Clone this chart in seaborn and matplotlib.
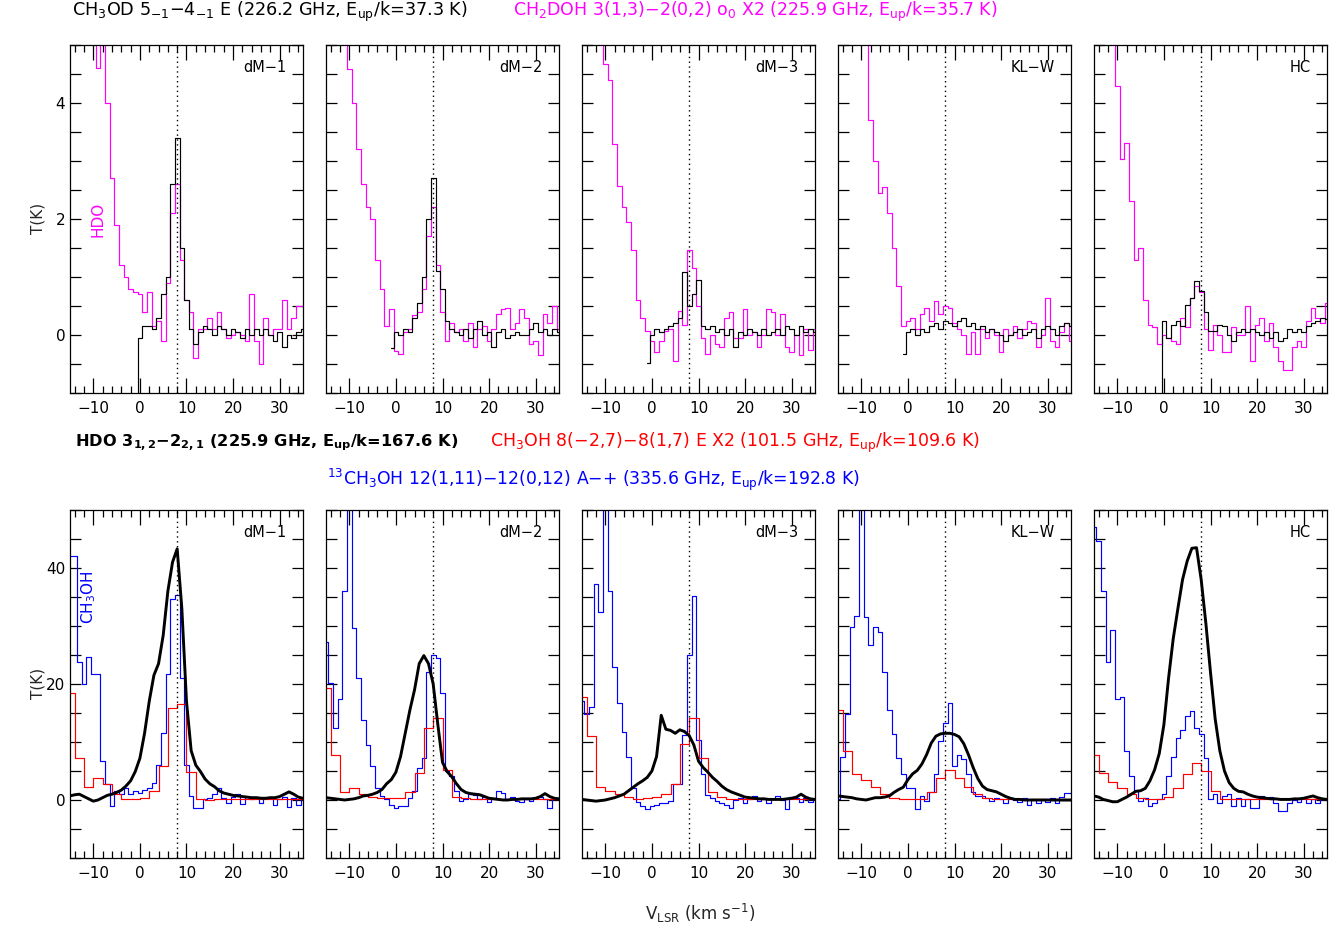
import numpy as np
import pandas as pd
import matplotlib
matplotlib.use("Agg")
import matplotlib.pyplot as plt
from matplotlib.ticker import FixedLocator, MultipleLocator, NullFormatter
import seaborn as sns

# ---------------------------------------------------------------- data
# channel velocities (km/s)
v_wide = np.arange(-15, 36)        # CH2DOH, HDO, 13CH3OH
v_narrow = np.arange(-1, 36)       # CH3OD (starts near 0 km/s)
v_coarse = np.arange(-15, 36, 2)   # CH3OH at 101 GHz (coarser channels)

sources = ["dM−1", "dM−2", "dM−3", "KL−W", "HC"]
v_ref = 8.0

# top row: CH2DOH x2 (magenta), v = -15 .. 35
ch2doh_dm1 = [6, 6, 6, 6, 6, 6, 4.6, 5.3, 4.0, 2.7,
              1.9, 1.2, 1.0, 0.8, 0.75, 0.7, 0.4, 0.75, 0.15, 0.25,
              -0.1, 0.9, 2.1, 2.6, 1.3, 0.6, 0.4, -0.4, 0.1, 0.1,
              0.3, 0.1, 0.4, 0.1, -0.05, 0.0, 0.05, 0.0, -0.1, 0.7,
              -0.1, -0.5, 0.3, 0.0, 0.1, 0.1, 0.6, 0.1, 0.3, 0.5, 0.5]
ch2doh_dm2 = [6, 6, 6, 6, 6, 4.58, 4.0, 3.2, 2.6, 2.2,
              2.0, 1.3, 0.8, 0.15, 0.45, -0.28, -0.33, 0.05, 0.1, 0.35,
              0.4, 0.8, 1.7, 2.2, 1.2, 0.4, -0.1, 0.2, 0.05, 0.1,
              -0.1, 0.2, -0.2, 0.1, 0.15, -0.1, 0.1, 0.36, 0.45, 0.47,
              0.1, 0.2, 0.45, 0.3, -0.15, -0.1, -0.35, 0.36, 0.2, 0.5, 0.1]
ch2doh_dm3 = [6, 6, 6, 6, 6, 4.67, 4.4, 3.3, 2.57, 2.2,
              1.94, 1.47, 0.6, 0.3, 0.07, -0.1, -0.3, -0.1, 0.07, 0.1,
              -0.45, 0.41, 0.18, 1.47, 1.16, 0.5, -0.05, -0.33, 0.0, -0.15,
              -0.2, 0.3, 0.4, -0.05, -0.05, 0.45, 0.0, 0.05, -0.2, 0.0,
              0.45, 0.4, 0.0, 0.36, -0.2, -0.3, 0.0, -0.35, 0.1, -0.25, 0.1]
ch2doh_klw = [6, 6, 6, 6, 6, 6, 6, 3.7, 3.0, 2.45,
              2.55, 2.1, 1.5, 0.85, 0.15, 0.24, 0.3, 0.1, 0.36, 0.47,
              0.24, 0.58, 0.36, 0.5, 0.47, 0.2, 0.1, 0.0, -0.33, 0.05,
              -0.33, 0.1, -0.05, 0.1, 0.0, -0.3, 0.1, 0.0, 0.15, -0.05,
              0.1, 0.24, 0.2, -0.2, 0.0, 0.64, -0.1, -0.2, 0.05, 0.2, -0.1]
ch2doh_hc = [6, 6, 6, 6, 6, 4.3, 3.03, 3.31, 2.31, 1.3,
             1.5, 0.6, 0.18, 0.13, -0.16, 0.0, -0.05, -0.1, -0.16, 0.3,
             0.13, 0.64, 0.84, 0.75, 0.1, -0.25, 0.18, 0.0, -0.3, -0.3,
             0.13, 0.0, 0.0, 0.5, -0.45, 0.18, 0.3, -0.1, 0.2, -0.2,
             -0.45, -0.6, -0.6, -0.2, -0.1, -0.2, 0.25, 0.47, 0.3, 0.2, 0.55]

# top row: CH3OD (black), v = -1 .. 35
ch3od_dm1 = [-3, -0.05, 0.15, 0.15, 0.1, 0.3, 0.7, 1.0, 2.6, 3.4,
             1.5, 0.6, 0.1, -0.15, 0.05, 0.15, 0.1, 0.0, 0.15, 0.1,
             0.0, 0.1, 0.05, -0.05, 0.1, 0.0, 0.1, 0.0, 0.1, 0.0,
             -0.1, 0.05, -0.2, 0.0, -0.05, 0.05, 0.1]
ch3od_dm2 = [-0.22, 0.05, 0.0, 0.1, 0.05, 0.3, 0.55, 1.0, 2.0, 2.7,
             1.1, 0.8, 0.25, 0.1, 0.05, 0.0, 0.1, -0.05, 0.1, 0.25,
             0.0, 0.05, -0.2, 0.05, 0.1, -0.05, 0.0, 0.05, 0.0, 0.0,
             0.1, 0.2, 0.05, 0.1, 0.0, 0.1, 0.05]
ch3od_dm3 = [-0.49, 0.0, 0.1, 0.05, 0.1, 0.15, 0.2, 0.3, 1.08, 0.5,
             0.7, 0.95, 0.15, 0.1, 0.15, 0.05, 0.1, 0.0, 0.1, -0.2,
             0.05, 0.0, 0.1, 0.05, 0.0, 0.1, 0.0, 0.05, 0.1, 0.0,
             0.15, 0.1, 0.0, 0.15, 0.05, 0.1, 0.05]
ch3od_klw = [-0.33, 0.05, 0.1, 0.0, 0.1, 0.05, 0.15, 0.2, 0.1, 0.25,
             0.2, 0.15, 0.25, 0.3, 0.15, 0.2, 0.1, 0.15, 0.05, 0.1,
             0.05, 0.0, -0.1, 0.0, 0.05, 0.1, 0.0, 0.05, 0.1, -0.05,
             0.1, 0.15, 0.1, 0.0, 0.15, 0.2, 0.15]
ch3od_hc = [-3, 0.24, -0.05, 0.18, 0.24, 0.15, 0.52, 0.64, 0.93, 0.76,
            0.4, 0.07, 0.07, 0.18, 0.15, 0.0, -0.1, 0.05, 0.1, 0.05,
            0.1, 0.05, 0.0, 0.05, -0.05, 0.05, -0.1, -0.05, 0.1, 0.05,
            0.1, 0.05, 0.15, 0.2, 0.25, 0.3, 0.27]

# bottom row: HDO (thick black), v = -15 .. 35
hdo_dm1 = [0.7, 0.9, 1.0, 0.6, 0.2, -0.2, 0.0, 0.4, 0.8, 1.0,
           1.3, 1.7, 2.4, 3.3, 4.9, 7.2, 11.5, 17.0, 21.5, 23.5,
           28.4, 36.0, 41.0, 43.3, 33.0, 17.0, 8.5, 6.0, 4.9, 3.6,
           2.8, 2.3, 1.6, 1.2, 1.0, 0.8, 0.7, 0.6, 0.5, 0.4,
           0.4, 0.3, 0.3, 0.4, 0.4, 0.6, 1.0, 1.4, 1.0, 0.5, 0.3]
hdo_dm2 = [0.4, 0.3, 0.2, 0.1, 0.0, 0.1, 0.2, 0.4, 0.7, 0.8,
           1.0, 1.3, 1.8, 2.8, 3.5, 4.8, 7.5, 11.5, 15.5, 19.0,
           23.5, 24.9, 23.5, 20.0, 13.0, 6.5, 4.9, 4.0, 2.8, 1.8,
           1.3, 1.1, 1.0, 0.9, 0.6, 0.3, 0.2, 0.1, 0.0, 0.0,
           0.1, 0.1, 0.2, 0.2, 0.2, 0.3, 0.6, 1.1, 0.6, 0.3, 0.2]
hdo_dm3 = [0.1, 0.0, -0.1, -0.2, -0.1, 0.0, 0.2, 0.4, 0.7, 1.0,
           1.6, 2.2, 2.8, 3.3, 3.9, 5.0, 7.5, 14.6, 12.2, 12.0,
           11.5, 12.1, 11.8, 11.1, 9.5, 6.7, 5.6, 4.8, 3.9, 3.2,
           2.4, 1.8, 1.4, 1.1, 0.8, 0.5, 0.4, 0.3, 0.2, 0.2,
           0.1, 0.1, 0.1, 0.1, 0.2, 0.3, 0.5, 1.0, 0.5, 0.2, 0.1]
hdo_klw = [0.7, 0.6, 0.5, 0.4, 0.2, 0.1, 0.0, 0.2, 0.4, 0.4,
           0.5, 0.7, 1.3, 1.8, 2.2, 3.5, 4.5, 5.1, 6.2, 7.8,
           9.8, 11.0, 11.4, 11.5, 11.5, 11.3, 10.9, 9.7, 7.8, 5.6,
           3.7, 2.4, 1.8, 1.6, 1.4, 1.0, 0.6, 0.3, 0.1, 0.1,
           0.0, 0.0, 0.0, 0.0, 0.0, 0.0, 0.0, 0.0, 0.0, 0.0, 0.0]
hdo_hc = [0.7, 0.5, 0.1, -0.1, -0.3, -0.3, 0.1, 0.5, 1.0, 1.5,
          1.6, 2.0, 3.3, 5.2, 8.0, 13.0, 21.0, 27.8, 33.0, 38.0,
          41.2, 43.4, 43.5, 38.0, 30.5, 22.0, 14.0, 8.5, 5.0, 3.0,
          2.0, 1.5, 1.4, 1.0, 0.7, 0.5, 0.4, 0.3, 0.2, 0.2,
          0.1, 0.1, 0.1, 0.2, 0.2, 0.3, 0.5, 0.7, 0.4, 0.2, 0.1]

# bottom row: 13CH3OH (blue), v = -15 .. 35
c13_dm1 = [42, 42, 23.8, 20, 24.7, 21.8, 21.8, 6.7, 2.7, -1.0,
           1.5, 1.0, 2.0, 1.0, 1.5, 1.2, 1.8, 2.1, 3.0, 6.0,
           11.5, 21.8, 34.7, 35.4, 21.0, 6.0, 0.7, -1.3, -1.3, 0.1,
           0.3, 1.0, 2.1, 0.4, -0.5, 0.5, 1.0, -0.7, 0.5, 0.2,
           0.6, -0.5, 0.3, 0.5, -0.8, 0.2, 0.6, -1.2, 0.4, -0.9, 0.2]
c13_dm2 = [27.3, 20.1, 12.4, 17.5, 36, 55, 29.6, 21, 13.8, 9.5,
           5.8, 2.1, 0.7, 0.1, -0.8, -1.3, -1.0, -1.0, 0.4, 1.5,
           5.6, 7.2, 22, 25, 24.4, 18.4, 5.0, 4.1, 1.5, -0.2,
           0.1, 1.0, 0.8, 0.2, 0.5, -0.3, 0.4, 1.5, 1.2, 0.1,
           0.5, -0.2, -0.3, 0.2, -0.2, 0.3, 0.5, 0.2, -1.3, 0.4, 0.3]
c13_dm3 = [17, 14.8, 16, 37.3, 32.4, 60, 36.1, 22.9, 16.7, 11.8,
           7.5, 2.1, -0.3, -1.0, -1.6, -1.0, -0.8, -0.5, -0.5, -0.2,
           2.7, 2.7, 11.2, 25, 35.1, 10.4, 4.4, 0.8, 0.4, -0.2,
           -0.5, -0.8, -1.3, 0.0, 0.4, -0.5, 0.2, 0.7, -0.2, 0.3,
           -0.5, 0.1, 0.7, 0.0, -1.6, 0.5, 0.4, -0.3, 0.3, -0.4, 0.2]
c13_klw = [0.1, 7.5, 14.8, 29.8, 31.8, 60, 31.6, 26.7, 29.8, 29.0,
           22, 15.6, 11.3, 7.3, 4.4, 2.1, 2.1, -1.6, 0.7, -0.2,
           1.3, 4.5, 10.1, 13.3, 16.7, 5.8, 7.8, 7.0, 4.4, 1.3,
           0.7, 0.7, 0.4, -0.2, 0.3, 0.1, -0.5, 0.4, 0.0, -0.4,
           0.3, -0.8, 0.2, -0.5, 0.1, -0.3, 0.3, -0.6, 0.5, 1.2, 1.2]
c13_hc = [47, 44.7, 36, 23.8, 29.3, 17.5, 17.8, 8.4, 4.1, 1.5,
          -0.2, 0.4, -1.0, -0.5, 0.1, 1.0, 4.1, 7.5, 10.7, 12.1,
          14.5, 15.4, 12.4, 11.3, 7.3, 0.1, 1.0, -0.5, 0.7, 1.0,
          -1.0, 0.4, -1.0, 0.2, -1.3, -1.3, 0.7, 0.4, 0.6, -0.5,
          -1.9, -1.9, -0.5, 0.0, -0.3, 0.3, -0.5, 0.2, -0.6, 0.1, 0.0]

# bottom row: CH3OH 101.5 GHz x2 (red), v = -15 .. 35 step 2
ch3oh_dm1 = [18.4, 7.3, 2.2, 3.8, 2.8, 1.0, 0.2, 0.1, 0.3, 1.5, 5.8, 15.9, 16.5,
             4.8, 0.2, 0.0, 0.2, 0.1, 0.1, 0.1, 0.1, 0.1, 0.1, 0.1, 0.1, 0.1]
ch3oh_dm2 = [19.3, 7.7, 1.3, 2.0, 1.1, 0.6, 0.4, 0.4, 0.4, 1.4, 4.7, 12.5, 14.2,
             5.1, 0.6, 0.3, 0.2, 0.2, 0.1, 0.1, 0.1, 0.1, 0.1, 0.1, 0.1, 0.1]
ch3oh_dm3 = [17.7, 11.0, 2.2, 1.5, 1.0, 0.5, 0.2, 0.3, 0.5, 1.0, 2.8, 9.6, 14.2,
             7.3, 1.4, 0.5, 0.2, 0.1, 0.1, 0.1, 0.1, 0.1, 0.1, 0.1, 0.1, 0.1]
ch3oh_klw = [15.6, 8.4, 4.4, 3.5, 2.2, 1.1, 0.4, 0.1, 0.1, 0.1, 1.3, 3.8, 5.1,
             3.8, 2.2, 1.0, 0.4, 0.1, 0.1, 0.1, 0.1, 0.1, 0.1, 0.1, 0.1, 0.1]
ch3oh_hc = [7.8, 4.7, 3.1, 2.1, 1.0, 0.4, 0.1, 0.1, 0.5, 2.0, 4.4, 6.3, 5.0,
            1.5, 0.2, 0.1, 0.1, 0.1, 0.1, 0.1, 0.1, 0.1, 0.1, 0.1, 0.1, 0.1]

top_magenta = [ch2doh_dm1, ch2doh_dm2, ch2doh_dm3, ch2doh_klw, ch2doh_hc]
top_black = [ch3od_dm1, ch3od_dm2, ch3od_dm3, ch3od_klw, ch3od_hc]
bot_black = [hdo_dm1, hdo_dm2, hdo_dm3, hdo_klw, hdo_hc]
bot_blue = [c13_dm1, c13_dm2, c13_dm3, c13_klw, c13_hc]
bot_red = [ch3oh_dm1, ch3oh_dm2, ch3oh_dm3, ch3oh_klw, ch3oh_hc]

# ---------------------------------------------------------------- style
sns.set_theme(style="ticks")
plt.rcParams["font.family"] = ["DejaVu Sans"]
plt.rcParams["mathtext.default"] = "regular"
plt.rcParams["axes.linewidth"] = 0.9

MAGENTA = "#ff00ff"
RED = "#ff0000"
BLUE = "#0000ff"

W, H = 1344, 931
fig = plt.figure(figsize=(W / 100, H / 100), dpi=100)
fig.patch.set_facecolor("white")

lefts = [70, 326, 582, 838, 1094]
pw = 233


def fx(px):
    return px / W


def fy(py):
    return 1 - py / H


def style_axis(ax, ylim, ymajor, yminor, show_ylabels):
    ax.set_xlim(-15, 35)
    ax.set_ylim(*ylim)
    ax.xaxis.set_major_locator(FixedLocator([-10, 0, 10, 20, 30]))
    ax.xaxis.set_minor_locator(MultipleLocator(2))
    ax.yaxis.set_major_locator(FixedLocator(ymajor))
    ax.yaxis.set_minor_locator(MultipleLocator(yminor))
    ax.tick_params(which="both", direction="in", top=True, right=True,
                   colors="black", labelsize=11, width=0.9)
    ax.tick_params(axis="x", which="major", length=11, pad=6)
    ax.tick_params(axis="x", which="minor", length=5)
    ax.tick_params(axis="y", which="both", length=8)
    if not show_ylabels:
        ax.yaxis.set_major_formatter(NullFormatter())
    ax.set_xlabel("")
    ax.set_ylabel("")
    for s in ax.spines.values():
        s.set_visible(True)
        s.set_color("black")
    ax.set_facecolor("white")
    ax.grid(False)


for i in range(5):
    # ---- top row
    ax = fig.add_axes([fx(lefts[i]), fy(393), pw / W, (393 - 45) / H])
    sns.lineplot(x=v_wide, y=top_magenta[i], ax=ax, color=MAGENTA, linewidth=0.85,
                 drawstyle="steps-mid", errorbar=None)
    sns.lineplot(x=v_narrow, y=top_black[i], ax=ax, color="black", linewidth=0.85,
                 drawstyle="steps-mid", errorbar=None)
    ax.axvline(v_ref, color="black", linestyle=(0, (1, 2.5)), linewidth=1.0)
    style_axis(ax, (-1, 5), [0, 2, 4], 0.5, i == 0)
    ax.text(0.93, 0.935, sources[i], transform=ax.transAxes, ha="right",
            va="center", fontsize=10.5, color="black")
    if i == 0:
        ax.text(0.12, 0.5, "HDO", transform=ax.transAxes, rotation=90,
                ha="center", va="center", fontsize=11, color=MAGENTA)

    # ---- bottom row
    ax = fig.add_axes([fx(lefts[i]), fy(858), pw / W, (858 - 510) / H])
    sns.lineplot(x=v_wide, y=bot_blue[i], ax=ax, color=BLUE, linewidth=0.85,
                 drawstyle="steps-mid", errorbar=None)
    sns.lineplot(x=v_coarse, y=bot_red[i], ax=ax, color=RED, linewidth=0.85,
                 drawstyle="steps-mid", errorbar=None)
    sns.lineplot(x=v_wide, y=bot_black[i], ax=ax, color="black", linewidth=2.1,
                 errorbar=None)
    ax.axvline(v_ref, color="black", linestyle=(0, (1, 2.5)), linewidth=1.0)
    style_axis(ax, (-10, 50), [0, 20, 40], 5, i == 0)
    ax.text(0.93, 0.935, sources[i], transform=ax.transAxes, ha="right",
            va="center", fontsize=10.5, color="black")
    if i == 0:
        ax.text(0.08, 0.75, "CH$_3$OH", transform=ax.transAxes, rotation=90,
                ha="center", va="center", fontsize=11, color=BLUE)

# ---------------------------------------------------------------- labels
fig.text(fx(72), fy(12), "CH$_3$OD 5$_{-1}$−4$_{-1}$ E (226.2 GHz, E$_{up}$/k=37.3 K)",
         ha="left", va="center", fontsize=12.7, color="black")
fig.text(fx(513), fy(12),
         "CH$_2$DOH 3(1,3)−2(0,2) o$_0$ X2 (225.9 GHz, E$_{up}$/k=35.7 K)",
         ha="left", va="center", fontsize=12.5, color=MAGENTA)
fig.text(fx(75), fy(443), "HDO 3$_{1,2}$−2$_{2,1}$ (225.9 GHz, E$_{up}$/k=167.6 K)",
         ha="left", va="center", fontsize=11.7, color="black", fontweight="bold")
fig.text(fx(490), fy(443),
         "CH$_3$OH 8(−2,7)−8(1,7) E X2 (101.5 GHz, E$_{up}$/k=109.6 K)",
         ha="left", va="center", fontsize=12.5, color=RED)
fig.text(fx(327), fy(480),
         "$^{13}$CH$_3$OH 12(1,11)−12(0,12) A−+ (335.6 GHz, E$_{up}$/k=192.8 K)",
         ha="left", va="center", fontsize=12.4, color=BLUE)

fig.text(fx(38), fy(218), "T(K)", rotation=90, ha="center", va="center", fontsize=11)
fig.text(fx(38), fy(683), "T(K)", rotation=90, ha="center", va="center", fontsize=11)
fig.text(fx(700), fy(913), "V$_{LSR}$ (km s$^{-1}$)", ha="center", va="center",
         fontsize=12)

fig.savefig("out.png", dpi=100, facecolor="white")
